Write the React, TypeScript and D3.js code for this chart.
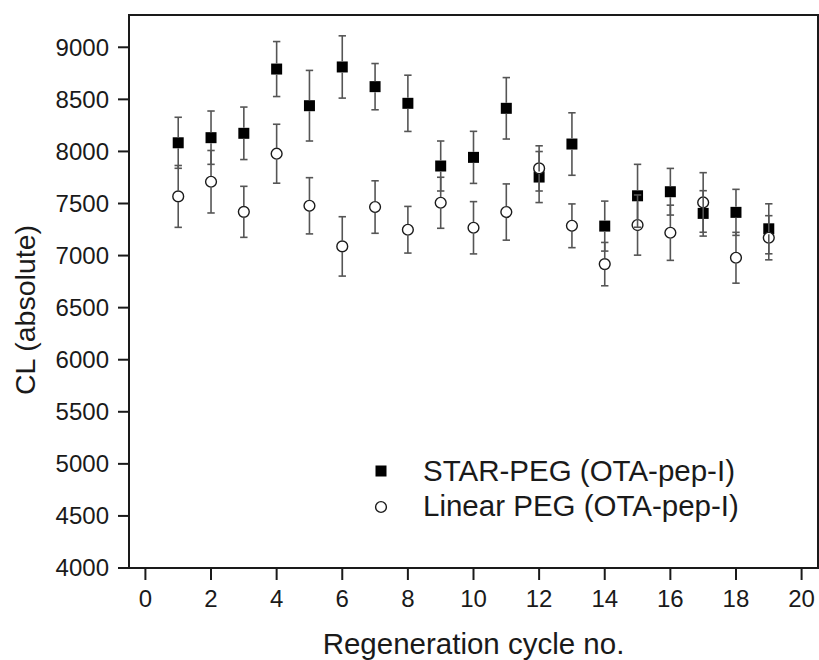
import React from "react";
import * as d3 from "d3";

const cycles = [1, 2, 3, 4, 5, 6, 7, 8, 9, 10, 11, 12, 13, 14, 15, 16, 17, 18, 19];
const starValues = [8083, 8132, 8174, 8791, 8439, 8811, 8622, 8462, 7860, 7943, 8414, 7754, 8071, 7283, 7574, 7613, 7405, 7415, 7257];
const starErrors = [245, 256, 252, 264, 339, 299, 222, 270, 240, 250, 295, 245, 300, 240, 302, 224, 218, 221, 240];
const linearValues = [7568, 7709, 7420, 7978, 7478, 7088, 7466, 7248, 7507, 7267, 7418, 7837, 7286, 6918, 7293, 7219, 7510, 6979, 7171];
const linearErrors = [297, 300, 245, 283, 270, 285, 252, 224, 245, 251, 270, 217, 210, 208, 289, 265, 286, 244, 212];
const xTicks = [0, 2, 4, 6, 8, 10, 12, 14, 16, 18, 20];
const yTicks = [4000, 4500, 5000, 5500, 6000, 6500, 7000, 7500, 8000, 8500, 9000];
const seriesNames = ["STAR-PEG (OTA-pep-I)", "Linear PEG (OTA-pep-I)"];
const xTitle = "Regeneration cycle no.";
const yTitle = "CL (absolute)";

const W = 819, H = 660;
const L = 129, R = 818, T = 15, B = 568;
const FONT = "'Liberation Sans', Arial, sans-serif";
const INK = "#1a1a1a";
const ERR = "#555";

export default function App() {
  const x = d3.scaleLinear().domain([-0.5, 20.5]).range([L, R]);
  const y = d3.scaleLinear().domain([4000, 9310]).range([B, T]);
  const half = 5.5;
  const cap = 3.7;

  const errBars = (vals: number[], errs: number[], key: string) =>
    cycles.map((c, i) => {
      const cx = x(c);
      const cy = y(vals[i]);
      const top = y(vals[i] + errs[i]);
      const bot = y(vals[i] - errs[i]);
      return (
        <g key={key + i} stroke={ERR} strokeWidth={1.6} fill="none">
          <line x1={cx} x2={cx} y1={cy - half} y2={top} />
          <line x1={cx} x2={cx} y1={cy + half} y2={bot} />
          <line x1={cx - cap} x2={cx + cap} y1={top} y2={top} />
          <line x1={cx - cap} x2={cx + cap} y1={bot} y2={bot} />
        </g>
      );
    });

  return (
    <svg width={W} height={H} style={{ position: "absolute", left: 0, top: 0, background: "#fff" }} fontFamily={FONT}>
      <rect x={0} y={0} width={W} height={H} fill="#fff" />
      {cycles.map((c, i) => (
        <rect key={"s" + i} x={x(c) - half} y={y(starValues[i]) - half} width={half * 2} height={half * 2} fill="#000" />
      ))}
      {cycles.map((c, i) => (
        <circle key={"c" + i} cx={x(c)} cy={y(linearValues[i])} r={5.4} fill="#fff" stroke={INK} strokeWidth={1.4} />
      ))}
      {errBars(starValues, starErrors, "es")}
      {errBars(linearValues, linearErrors, "el")}

      <rect x={L} y={T} width={R - L} height={B - T} fill="none" stroke={INK} strokeWidth={2} />

      {yTicks.map((t) => (
        <g key={"yt" + t}>
          <line x1={L - 11} x2={L} y1={y(t)} y2={y(t)} stroke={INK} strokeWidth={2} />
          <text x={109} y={y(t)} dy="0.35em" textAnchor="end" fontSize={24} fill={INK}>
            {t}
          </text>
        </g>
      ))}
      {xTicks.map((t) => (
        <g key={"xt" + t}>
          <line x1={x(t)} x2={x(t)} y1={B} y2={B + 12} stroke={INK} strokeWidth={2} />
          <text x={x(t)} y={607} textAnchor="middle" fontSize={24} fill={INK}>
            {t}
          </text>
        </g>
      ))}

      <text x={(L + R) / 2} y={654} textAnchor="middle" fontSize={29.5} fill={INK}>
        {xTitle}
      </text>
      <text transform={`translate(35, 310) rotate(-90)`} textAnchor="middle" fontSize={28.5} fill={INK}>
        {yTitle}
      </text>

      <rect x={381 - half} y={471 - half} width={half * 2} height={half * 2} fill="#000" />
      <text x={423} y={481} fontSize={29.5} fill={INK}>{seriesNames[0]}</text>
      <circle cx={381} cy={507} r={5.4} fill="#fff" stroke={INK} strokeWidth={1.4} />
      <text x={423} y={516} fontSize={29.5} fill={INK}>{seriesNames[1]}</text>
    </svg>
  );
}
